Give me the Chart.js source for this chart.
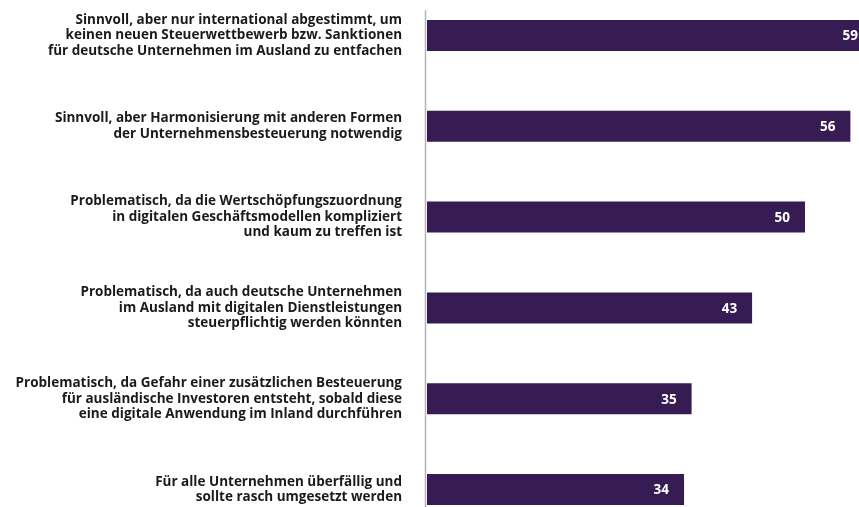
<!DOCTYPE html>
<html>
<head>
<meta charset="utf-8">
<script src="https://cdn.jsdelivr.net/npm/chart.js@4"></script>
<style>
  html, body { margin: 0; padding: 0; background: #fff; overflow: hidden; }
  #wrap { position: absolute; left: 0; top: -10px; width: 859px; height: 545px; }
</style>
</head>
<body>
<div id="wrap"><canvas id="myChart" width="859" height="545"></canvas></div>
<script>
const labels = [
    ['Sinnvoll, aber nur international abgestimmt, um', 'keinen neuen Steuerwettbewerb bzw. Sanktionen', 'für deutsche Unternehmen im Ausland zu entfachen'],
    ['Sinnvoll, aber Harmonisierung mit anderen Formen', 'der Unternehmensbesteuerung notwendig'],
    ['Problematisch, da die Wertschöpfungszuordnung', 'in digitalen Geschäftsmodellen kompliziert', 'und kaum zu treffen ist'],
    ['Problematisch, da auch deutsche Unternehmen', 'im Ausland mit digitalen Dienstleistungen', 'steuerpflichtig werden könnten'],
    ['Problematisch, da Gefahr einer zusätzlichen Besteuerung', 'für ausländische Investoren entsteht, sobald diese', 'eine digitale Anwendung im Inland durchführen'],
    ['Für alle Unternehmen überfällig und', 'sollte rasch umgesetzt werden']
];
const values = [59, 56, 50, 43, 35, 34];

const barColor = '#361c53';

// Werte in den Balken, rechtsbündig
const valueLabels = {
    id: 'valueLabels',
    afterDatasetsDraw(chart) {
        const c = chart.ctx;
        const meta = chart.getDatasetMeta(0);
        c.save();
        c.font = 'bold 13.5px "Open Sans"';
        c.fillStyle = '#ffffff';
        c.textAlign = 'right';
        c.textBaseline = 'middle';
        meta.data.forEach((bar, i) => {
            c.fillText(String(values[i]), bar.x - 15, bar.y + 1);
        });
        c.restore();
    }
};

// senkrechte Achsenlinie
const axisLine = {
    id: 'axisLine',
    afterDraw(chart) {
        const c = chart.ctx;
        const x = chart.chartArea.left - 1.5;
        c.save();
        c.strokeStyle = '#b4b4b4';
        c.lineWidth = 1.5;
        c.beginPath();
        c.moveTo(x, 20);
        c.lineTo(x, chart.height);
        c.stroke();
        c.restore();
    }
};

const ctx = document.getElementById('myChart').getContext('2d');

const myChart = new Chart(ctx, {
    type: 'bar',
    data: {
        labels: labels,
        datasets: [{
            data: values,
            backgroundColor: barColor,
            borderWidth: 0,
            categoryPercentage: 1,
            barPercentage: 0.341
        }]
    },
    options: {
        indexAxis: 'y',
        responsive: false,
        animation: false,
        layout: { padding: 0 },
        plugins: {
            legend: { display: false },
            tooltip: { enabled: false }
        },
        scales: {
            x: {
                display: false,
                min: 0,
                max: 57.14
            },
            y: {
                afterFit(scale) {
                    scale.width = 427;
                    scale.paddingTop = 0;
                    scale.paddingBottom = 0;
                },
                grid: { display: false, drawTicks: false },
                border: { display: false },
                ticks: {
                    padding: 25,
                    color: '#1a1a1a',
                    font: { family: 'Open Sans', weight: 'bold', size: 13.5, lineHeight: 1.15 }
                }
            }
        }
    },
    plugins: [valueLabels, axisLine]
});
</script>
</body>
</html>
